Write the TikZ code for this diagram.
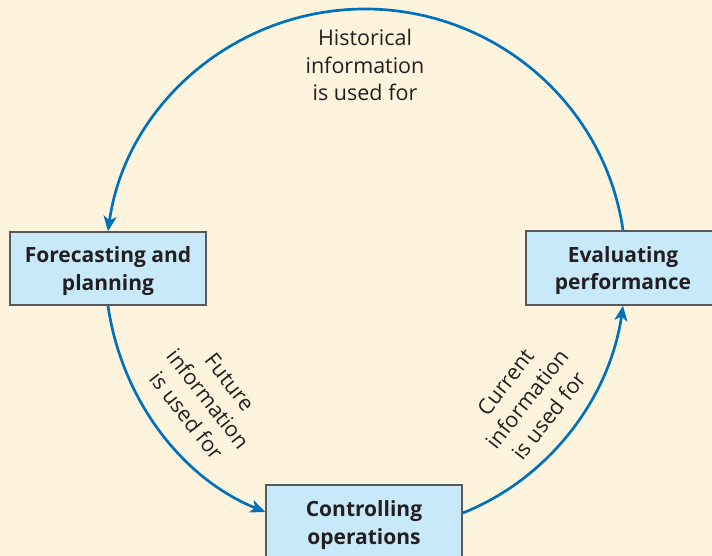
\documentclass[tikz,border=0pt]{standalone}
\usepackage{fontspec}
\setmainfont{Open Sans}
\usetikzlibrary{arrows.meta}
\definecolor{bgcream}{RGB}{254,243,221}
\definecolor{boxblue}{RGB}{200,233,250}
\definecolor{boxedge}{RGB}{88,89,91}
\definecolor{flowblue}{RGB}{0,114,188}
\definecolor{txt}{RGB}{35,31,32}
\tikzset{
  stagebox/.style={draw=boxedge, fill=boxblue, line width=1.5pt, inner sep=0pt,
    minimum width=196pt, minimum height=74pt, align=center, text=txt, text depth=0pt,
    font=\fontsize{21}{27.5}\selectfont\bfseries},
  flow/.style={draw=flowblue, line width=2.7pt, -{Stealth[length=15pt,width=13pt,inset=4pt]}},
  flowplain/.style={draw=flowblue, line width=2.7pt},
  lbl/.style={align=center, text=txt, inner sep=0pt,
    font=\fontsize{21.5}{27.5}\selectfont}
}
\begin{document}
\begin{tikzpicture}[x=1pt,y=1pt]
\useasboundingbox (0,0) rectangle (712,556);
\fill[bgcream] (0,0) rectangle (712,556);
\node[stagebox, minimum height=73pt] (fp) at (108,287.5) {Forecasting and\\planning};
\node[stagebox, minimum width=194pt] (ep) at (623,288) {Evaluating\\performance};
\node[stagebox, minimum height=75pt] (cp) at (364,33.5) {Controlling\\operations};
\coordinate (top) at (365,547);
\draw[flowplain] (ep.north) to[out=98.2,in=0,looseness=0.97] (top);
\draw[flow] (top) to[out=180,in=82,looseness=0.97] (fp.north);
\draw[flow] (fp.south) to[out=278.2,in=157.9,looseness=0.91] ([yshift=10.5pt]cp.west);
\draw[flow] ([yshift=9.5pt]cp.east) to[out=21.7,in=261.8,looseness=0.91] (ep.south);
\node[lbl] (hist) at (365,491) {Historical\\information\\is used for};
\node[lbl, rotate=-52] (fut) at (208,157) {Future\\information\\is used for};
\node[lbl, rotate=52] (cur) at (527,157) {Current\\information\\is used for};
\end{tikzpicture}
\end{document}
